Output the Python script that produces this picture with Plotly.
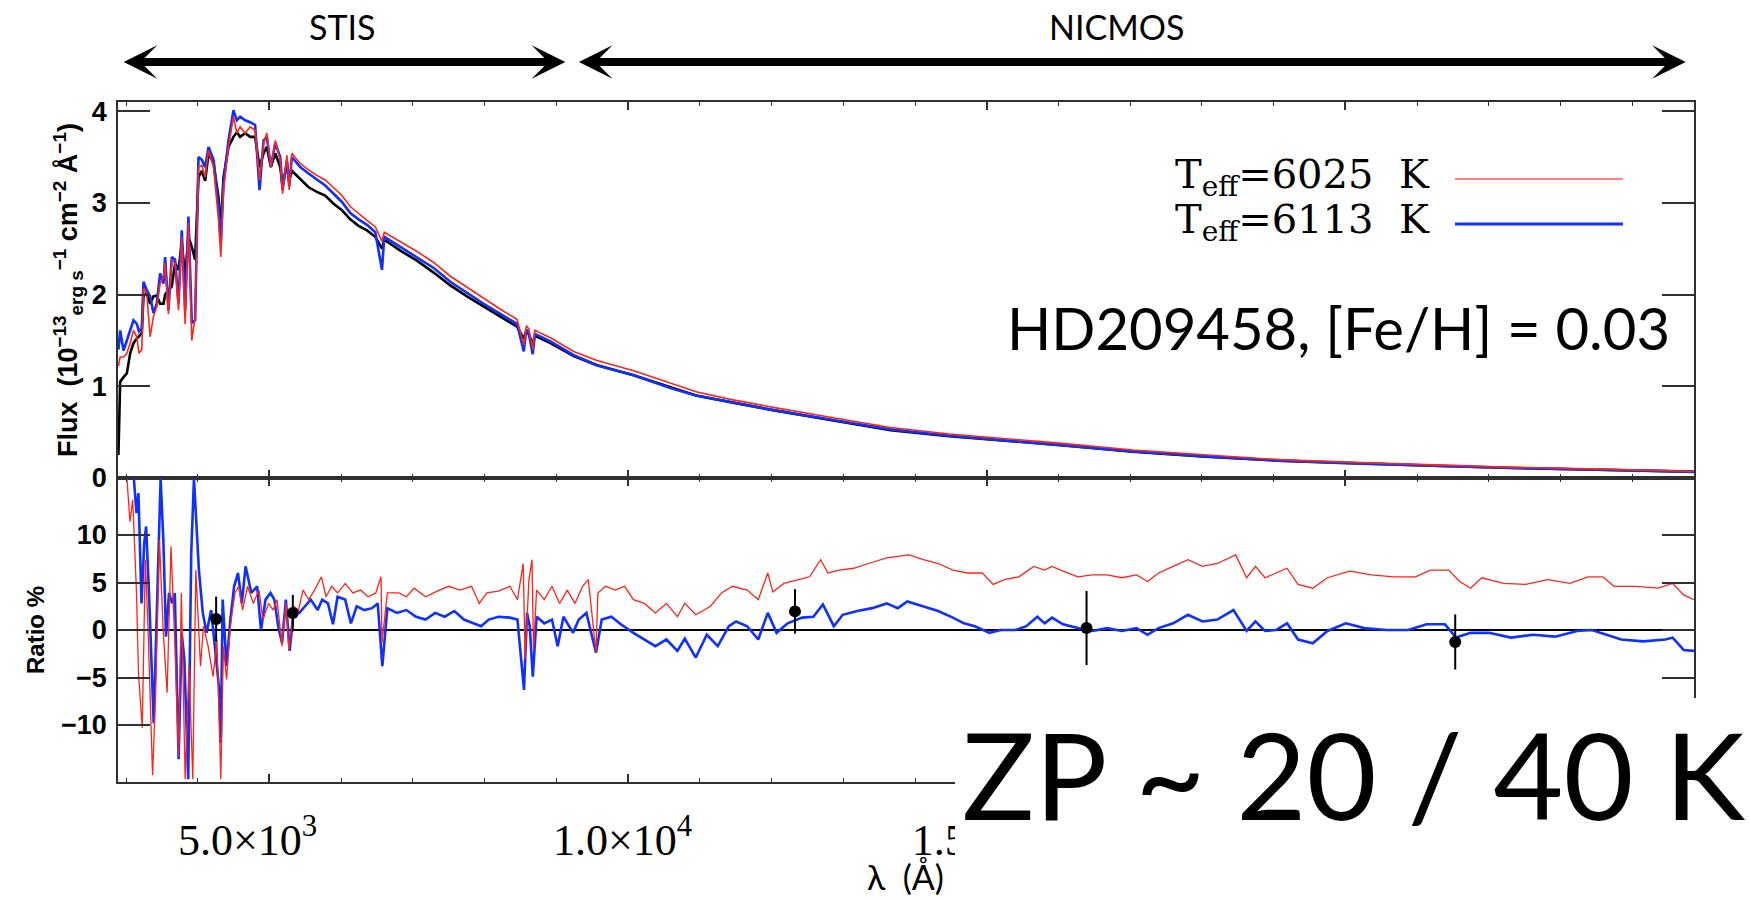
import plotly.graph_objects as go

# ---------------- data ----------------
FLUX_WAVE = [2894, 2918, 2965, 3011, 3058, 3104, 3150, 3180, 3220, 3243,
             3289, 3336, 3382, 3429, 3475, 3522, 3545, 3591, 3638, 3684,
             3731, 3777, 3824, 3870, 3917, 3963, 4010, 4057, 4103, 4150,
             4220, 4289, 4321, 4359, 4428, 4498, 4545, 4591, 4661, 4731,
             4800, 4861, 4917, 4963, 5019, 5080, 5150, 5182, 5243, 5275,
             5312, 5428, 5545, 5661, 5777, 5894, 6010, 6126, 6242, 6359,
             6475, 6568, 6600, 6824, 7056, 7289, 7521, 7754, 7986, 8219,
             8452, 8545, 8580, 8614, 8670, 8700, 8777, 8917, 9242, 9566,
             10078, 10589, 10947, 11408, 12021, 12840, 13658, 14476, 15192, 16011,
             17034, 18056, 19079, 20102, 21330, 22353, 23376, 24859]
FLUX_OBS = [0.25, 1.05, 1.10, 1.14, 1.36, 1.47, 1.52, 1.55, 1.58, 1.98,
            2.02, 1.90, 1.98, 1.99, 1.90, 1.90, 2.00, 2.05, 2.09, 2.34,
            2.27, 2.56, 2.19, 2.63, 2.52, 2.38, 3.28, 3.35, 3.24, 3.54,
            3.43, 3.06, 2.70, 3.28, 3.61, 3.72, 3.77, 3.72, 3.76, 3.72,
            3.72, 3.39, 3.54, 3.61, 3.39, 3.54, 3.39, 3.18, 3.43, 3.25,
            3.35, 3.26, 3.17, 3.12, 3.08, 2.99, 2.92, 2.82, 2.75, 2.70,
            2.63, 2.50, 2.60, 2.48, 2.37, 2.24, 2.10, 1.98, 1.87, 1.76,
            1.65, 1.52, 1.60, 1.57, 1.46, 1.55, 1.52, 1.47, 1.33, 1.23,
            1.12, 0.99, 0.90, 0.83, 0.74, 0.63, 0.52, 0.455, 0.414, 0.36,
            0.287, 0.233, 0.189, 0.16, 0.131, 0.109, 0.094, 0.069]
FLUX_T6025 = [1.22, 1.32, 1.32, 1.36, 1.47, 1.61, 1.54, 1.36, 1.40, 2.07,
              2.01, 1.54, 1.76, 1.87, 2.12, 2.19, 2.34, 1.79, 2.38, 2.34,
              1.83, 2.63, 1.68, 2.78, 1.50, 1.76, 3.39, 3.41, 3.28, 3.57,
              3.39, 2.82, 2.41, 3.14, 3.61, 3.94, 3.76, 3.83, 3.76, 3.83,
              3.79, 3.25, 3.65, 3.76, 3.39, 3.68, 3.47, 3.10, 3.52, 3.14,
              3.54, 3.43, 3.36, 3.30, 3.25, 3.16, 3.08, 2.96, 2.88, 2.81,
              2.74, 2.58, 2.68, 2.58, 2.47, 2.35, 2.20, 2.08, 1.96, 1.84,
              1.73, 1.45, 1.66, 1.63, 1.40, 1.61, 1.58, 1.53, 1.38, 1.28,
              1.17, 1.03, 0.94, 0.86, 0.77, 0.66, 0.55, 0.48, 0.435, 0.38,
              0.305, 0.25, 0.20, 0.17, 0.14, 0.116, 0.10, 0.072]
FLUX_T6113 = [1.40, 1.61, 1.39, 1.50, 1.61, 1.72, 1.68, 1.60, 1.63, 2.14,
              2.05, 1.98, 1.80, 1.90, 2.23, 2.12, 2.41, 1.83, 2.41, 2.38,
              1.90, 2.70, 1.83, 2.85, 1.69, 1.72, 3.50, 3.47, 3.39, 3.61,
              3.47, 2.96, 2.56, 3.21, 3.68, 4.01, 3.90, 3.94, 3.90, 3.88,
              3.85, 3.14, 3.68, 3.72, 3.39, 3.65, 3.50, 3.14, 3.46, 3.18,
              3.50, 3.39, 3.32, 3.25, 3.19, 3.10, 3.01, 2.89, 2.82, 2.76,
              2.68, 2.27, 2.63, 2.52, 2.41, 2.29, 2.14, 2.02, 1.90, 1.79,
              1.68, 1.38, 1.62, 1.58, 1.35, 1.57, 1.54, 1.49, 1.34, 1.23,
              1.12, 0.98, 0.90, 0.83, 0.74, 0.635, 0.53, 0.46, 0.414, 0.36,
              0.29, 0.235, 0.19, 0.16, 0.131, 0.109, 0.093, 0.067]

RATIO_WAVE_T6025 = [3013, 3055, 3093, 3146, 3173, 3226, 3269, 3306, 3370, 3413,
                    3466, 3520, 3573, 3627, 3680, 3733, 3771, 3824, 3877, 3931,
                    3973, 4038, 4080, 4144, 4214, 4267, 4321, 4358, 4401, 4454,
                    4518, 4571, 4625, 4694, 4774, 4854, 4908, 4988, 5052, 5105,
                    5175, 5228, 5271, 5335, 5404, 5468, 5548, 5628, 5724, 5788,
                    5868, 5949, 6055, 6162, 6269, 6376, 6482, 6555, 6568, 6643,
                    6803, 6909, 7016, 7176, 7337, 7497, 7657, 7817, 7924, 8030,
                    8191, 8351, 8457, 8537, 8564, 8617, 8660, 8681, 8724, 8831,
                    8938, 9045, 9151, 9258, 9365, 9445, 9552, 9578, 9685, 9819,
                    9952, 10073, 10226, 10380, 10534, 10687, 10790, 10943, 11148, 11302,
                    11455, 11660, 11814, 11947, 12018, 12172, 12377, 12530, 12684, 12786,
                    12940, 13145, 13350, 13606, 13913, 14118, 14322, 14527, 14732, 14937,
                    15090, 15244, 15449, 15654, 15807, 15910, 16063, 16268, 16473, 16678,
                    16882, 17087, 17241, 17394, 17599, 17804, 18009, 18214, 18470, 18623,
                    18746, 18879, 19033, 19186, 19340, 19545, 19750, 20057, 20364, 20671,
                    20978, 21183, 21439, 21593, 21746, 21900, 22207, 22514, 22822, 23129,
                    23385, 23590, 23743, 24050, 24358, 24562, 24716, 24860]
RATIO_T6025 = [15.9, 11.4, 13.7, 3.9, -4.5, -10.3, 7.4, 0.4, -15.3, -6.6,
               9.5, -0.3, -6.6, 8.8, -1.4, -13.3, 3.9, -15.7, -3.8, -15.7,
               6.3, -3.8, 0.4, -1.7, -4.9, -1.0, -15.7, -1.7, -5.2, 0.4,
               3.9, 4.6, 2.1, 4.6, 2.8, 4.2, 1.1, 2.8, 2.1, 3.2,
               -1.7, 2.8, -2.1, 2.5, 2.1, 4.2, 3.2, 4.2, 5.6, 3.5,
               4.6, 3.9, 4.9, 3.9, 4.2, 3.5, 3.9, 5.6, -1.4, 3.9,
               3.9, 3.5, 4.4, 3.5, 4.1, 4.6, 4.2, 4.6, 2.8, 3.9,
               4.1, 4.6, 3.2, 7.0, -3.1, 5.3, 7.4, -2.1, 4.2, 3.2,
               4.6, 2.8, 4.2, 2.8, 4.6, 5.3, -2.4, 3.9, 4.6, 4.2,
               4.6, 3.2, 2.8, 1.8, 2.8, 1.4, 2.8, 1.6, 2.5, 3.9,
               4.6, 4.2, 3.2, 6.0, 4.0, 4.9, 5.3, 5.6, 7.4, 6.0,
               6.3, 6.5, 7.0, 7.6, 7.9, 7.4, 7.0, 6.3, 6.0, 6.0,
               4.8, 5.3, 5.6, 6.7, 6.3, 6.7, 6.2, 5.6, 5.8, 5.8,
               5.5, 5.8, 5.1, 6.0, 6.7, 7.4, 6.7, 7.0, 7.9, 5.5,
               6.7, 5.5, 6.0, 6.5, 4.8, 4.4, 5.5, 6.2, 5.8, 5.6,
               5.6, 6.3, 6.3, 5.1, 4.4, 5.5, 4.9, 4.8, 5.3, 4.9,
               5.6, 5.6, 4.6, 4.6, 4.4, 4.9, 3.7, 3.2]

RATIO_WAVE_T6113 = [3109, 3146, 3173, 3216, 3253, 3280, 3322, 3386, 3429, 3482,
                    3520, 3557, 3600, 3643, 3680, 3733, 3776, 3813, 3867, 3909,
                    3947, 3984, 4016, 4070, 4123, 4187, 4240, 4294, 4321, 4347,
                    4401, 4454, 4507, 4561, 4614, 4667, 4747, 4828, 4881, 4945,
                    5014, 5068, 5121, 5175, 5228, 5281, 5335, 5415, 5495, 5575,
                    5671, 5735, 5815, 5885, 5949, 6055, 6135, 6216, 6322, 6429,
                    6509, 6573, 6643, 6776, 6909, 7043, 7176, 7310, 7443, 7577,
                    7710, 7844, 7950, 8057, 8191, 8351, 8457, 8548, 8591, 8628,
                    8671, 8724, 8831, 8938, 9018, 9098, 9232, 9312, 9418, 9552,
                    9632, 9765, 9899, 10073, 10226, 10380, 10534, 10687, 10790, 10943,
                    11097, 11250, 11404, 11506, 11660, 11814, 11947, 12070, 12223, 12428,
                    12582, 12715, 12868, 12991, 13196, 13401, 13606, 13759, 13892, 14118,
                    14322, 14527, 14681, 14834, 15039, 15193, 15398, 15551, 15705, 15807,
                    15910, 16063, 16268, 16473, 16678, 16882, 17087, 17241, 17394, 17599,
                    17804, 18009, 18214, 18439, 18623, 18746, 18879, 19033, 19186, 19340,
                    19545, 19750, 20006, 20262, 20569, 20876, 21132, 21388, 21542, 21746,
                    22002, 22309, 22617, 22924, 23231, 23436, 23641, 23846, 24153, 24460,
                    24562, 24716, 24860]
RATIO_T6113 = [15.9, 12.3, 14.4, 2.8, 9.1, 10.9, 3.5, -9.8, 1.8, 15.9,
               9.5, -0.7, 3.9, 2.8, 3.9, -13.6, -0.3, -3.1, -15.7, 8.1,
               15.9, 10.9, 6.3, 1.8, -0.3, 2.1, -1.7, -5.9, -11.9, 3.2,
               -3.8, 1.1, 4.6, 6.0, 2.8, 6.7, 3.9, 4.6, 0.0, 3.2,
               3.9, 3.2, 0.4, -1.4, 3.2, -2.2, 1.8, 1.8, 2.5, 3.2,
               2.1, 3.2, 2.8, 0.6, 3.5, 3.2, 0.7, 2.5, 2.1, 2.3,
               2.8, -3.8, 2.3, 1.8, 2.1, 1.4, 1.1, 1.8, 1.4, 2.0,
               1.1, 0.7, 0.4, 1.1, 1.4, 1.3, 1.1, -6.3, 1.8, 0.4,
               -4.9, 1.4, 0.7, 1.1, -1.7, 1.4, -0.3, 1.1, 1.8, -2.4,
               1.1, 1.4, 0.6, -0.3, -1.0, -1.7, -1.0, -2.2, -0.9, -2.9,
               -0.5, -1.7, 0.4, 0.9, 0.4, -1.0, 1.8, -0.3, 0.7, 1.3,
               1.4, 2.7, 0.4, 1.6, 2.0, 2.3, 2.8, 2.3, 3.0, 2.5,
               2.0, 1.3, 0.7, 0.4, -0.3, 0.0, 0.0, 0.4, 1.4, 0.7,
               1.3, 0.6, 0.2, -0.1, 0.2, -0.1, 0.2, -0.5, 0.2, 0.7,
               1.6, 0.9, 1.1, 2.1, -0.1, 0.9, -0.1, 0.0, 0.7, -1.0,
               -1.4, -0.1, 0.7, 0.2, 0.0, 0.0, 0.6, 0.6, -0.8, -0.3,
               -0.3, -0.8, -0.5, -0.7, -0.1, 0.0, -0.5, -1.0, -1.2, -1.0,
               -0.8, -2.1, -2.2]

PHOT_WAVE = [4256, 5325, 12326, 16391, 21531]
PHOT_RATIO = [1.15, 1.78, 1.96, 0.21, -1.26]
PHOT_ERR = [2.36, 1.92, 2.34, 3.9, 2.9]

XTICK_VALS = [5000, 10000, 15000, 20000]
XTICK_TEXT = ["5.0×10<sup>3</sup>", "1.0×10<sup>4</sup>",
              "1.5×10<sup>4</sup>", "2.0×10<sup>4</sup>"]
XMINOR_VALS = list(range(3000, 25000, 1000))
FLUX_TICKS = [0, 1, 2, 3, 4]
RATIO_TICKS = [-10, -5, 0, 5, 10]

# ---------------- geometry helpers ----------------
W, H = 1751, 900
ML, MR, MT, MB = 118, 57, 102, 118
PW, PH = W - ML - MR, H - MT - MB


def px(x):
    return (x - ML) / PW


def py(y):
    return (H - MB - y) / PH


SPLIT = py(478)
XR = [2888, 24860]
RED = "#ff2418"
BLUE = "#1030ff"
AX = "#303030"
NB = "\u00a0"

# IDL-style labels sit a little left of their ticks: pad the right side
XTICK_SHOWN = [XTICK_TEXT[0] + NB * 4, XTICK_TEXT[1] + NB,
               XTICK_TEXT[2] + NB, XTICK_TEXT[3] + NB]

fig = go.Figure()
fig.add_trace(go.Scatter(x=FLUX_WAVE, y=FLUX_OBS, mode="lines",
                         line=dict(color="black", width=2.6), xaxis="x", yaxis="y"))
fig.add_trace(go.Scatter(x=FLUX_WAVE, y=FLUX_T6113, mode="lines",
                         line=dict(color=BLUE, width=2.6), xaxis="x", yaxis="y"))
fig.add_trace(go.Scatter(x=FLUX_WAVE, y=FLUX_T6025, mode="lines",
                         line=dict(color=RED, width=1.6), xaxis="x", yaxis="y"))

fig.add_trace(go.Scatter(x=RATIO_WAVE_T6113, y=RATIO_T6113, mode="lines",
                         line=dict(color=BLUE, width=2.6), xaxis="x2", yaxis="y2"))
fig.add_trace(go.Scatter(x=RATIO_WAVE_T6025, y=RATIO_T6025, mode="lines",
                         line=dict(color=RED, width=1.3), xaxis="x2", yaxis="y2"))
fig.add_trace(go.Scatter(x=PHOT_WAVE, y=PHOT_RATIO, mode="markers",
                         marker=dict(color="black", size=12),
                         error_y=dict(type="data", array=PHOT_ERR, color="black",
                                      thickness=2, width=0),
                         xaxis="x2", yaxis="y2"))

xcommon = dict(range=XR, showline=True, linecolor=AX, linewidth=1.5, mirror="ticks",
               ticks="inside", ticklen=8, tickwidth=1.5, tickcolor=AX,
               tickmode="array", tickvals=XTICK_VALS, showgrid=False, zeroline=False,
               minor=dict(tickmode="array", tickvals=XMINOR_VALS, ticks="inside",
                          ticklen=4, tickwidth=1.2, tickcolor=AX, showgrid=False))
ycommon = dict(showline=True, linecolor=AX, linewidth=1.5, mirror="ticks",
               ticks="inside", ticklen=32, tickwidth=1.5, tickcolor=AX,
               tickmode="array", showgrid=False, zeroline=False,
               tickfont=dict(family="Liberation Sans", size=27, color="black",
                             weight="bold"),
               ticklabelstandoff=4)

fig.update_layout(
    width=W, height=H, margin=dict(l=ML, r=MR, t=MT, b=MB),
    paper_bgcolor="white", plot_bgcolor="white", showlegend=False,
    xaxis=dict(**xcommon, anchor="y", showticklabels=False),
    yaxis=dict(**ycommon, domain=[SPLIT, 1], range=[0, 4.1], tickvals=FLUX_TICKS,
               anchor="x"),
    xaxis2=dict(**xcommon, anchor="y2", matches="x", showticklabels=True,
                ticktext=XTICK_SHOWN,
                tickfont=dict(family="Liberation Serif", size=44, color="black"),
                ticklabelstandoff=18),
    yaxis2=dict(**ycommon, domain=[0, SPLIT], range=[-16, 16], tickvals=RATIO_TICKS,
                anchor="x2"),
)

shapes = [
    dict(type="line", xref="x2 domain", yref="y2", x0=0, x1=1, y0=0, y1=0,
         line=dict(color="black", width=2), layer="below"),
    dict(type="line", xref="paper", yref="paper", x0=px(1455), x1=px(1623),
         y0=py(179), y1=py(179), line=dict(color="#ff5a50", width=1.6)),
    dict(type="line", xref="paper", yref="paper", x0=px(1455), x1=px(1623),
         y0=py(224), y1=py(224), line=dict(color=BLUE, width=3)),
    dict(type="rect", xref="paper", yref="paper", x0=px(955), x1=px(W + 10),
         y0=py(H + 10), y1=py(698), fillcolor="white", line=dict(width=0),
         layer="above"),
]

C = dict(xref="paper", yref="paper", showarrow=False, xanchor="center",
         yanchor="middle")
ann = []
# instrument arrows
for x_tail, x_head in [(2946, 9124), (9292, 24745)]:
    ann.append(dict(x=x_head, y=py(62), xref="x", yref="paper", ax=x_tail, ay=0,
                    axref="x", ayref="pixel", text="", showarrow=True,
                    arrowhead=3, startarrowhead=3, arrowside="end+start",
                    arrowsize=0.7, startarrowsize=0.7, arrowwidth=8,
                    arrowcolor="black"))
ann.append(dict(C, x=px(342), y=py(27), text="STIS",
                font=dict(family="Lato", size=34, color="black")))
ann.append(dict(C, x=px(1116), y=py(27), text="NICMOS",
                font=dict(family="Lato", size=34, color="black")))
# legend text
for yc, label in [(177, "T<sub>eff</sub>=6025" + NB * 2 + "K"),
                  (222, "T<sub>eff</sub>=6113" + NB * 2 + "K")]:
    ann.append(dict(C, x=px(1432), y=py(yc), text=label, xanchor="right",
                    font=dict(family="DejaVu Serif", size=40, color="black")))
ann.append(dict(C, x=px(1672), y=py(327), text="HD209458, [Fe/H] = 0.03",
                xanchor="right", font=dict(family="Lato", size=58, color="black")))
# axis titles
ann.append(dict(C, x=px(68), y=py(290), textangle=-90,
                text="Flux" + NB * 2 + "(10<sup>−13</sup><sub>erg s</sub><sup>−1</sup> cm<sup>−2</sup> Å<sup>−1</sup>)",
                font=dict(family="Liberation Sans", size=27, color="black", weight="bold")))
ann.append(dict(C, x=px(35), y=py(630), textangle=-90, text="Ratio %",
                font=dict(family="Liberation Sans", size=24, color="black", weight="bold")))
ann.append(dict(C, x=px(905), y=py(876), text="λ" + NB * 2 + "(Å)",
                font=dict(family="Lato", size=34, color="black")))
ann.append(dict(C, x=px(1354), y=py(773), text="ZP ~ 20 / 40 K",
                font=dict(family="Lato", size=121, color="black")))

fig.update_layout(shapes=shapes, annotations=ann)
fig.write_html("out.html")
